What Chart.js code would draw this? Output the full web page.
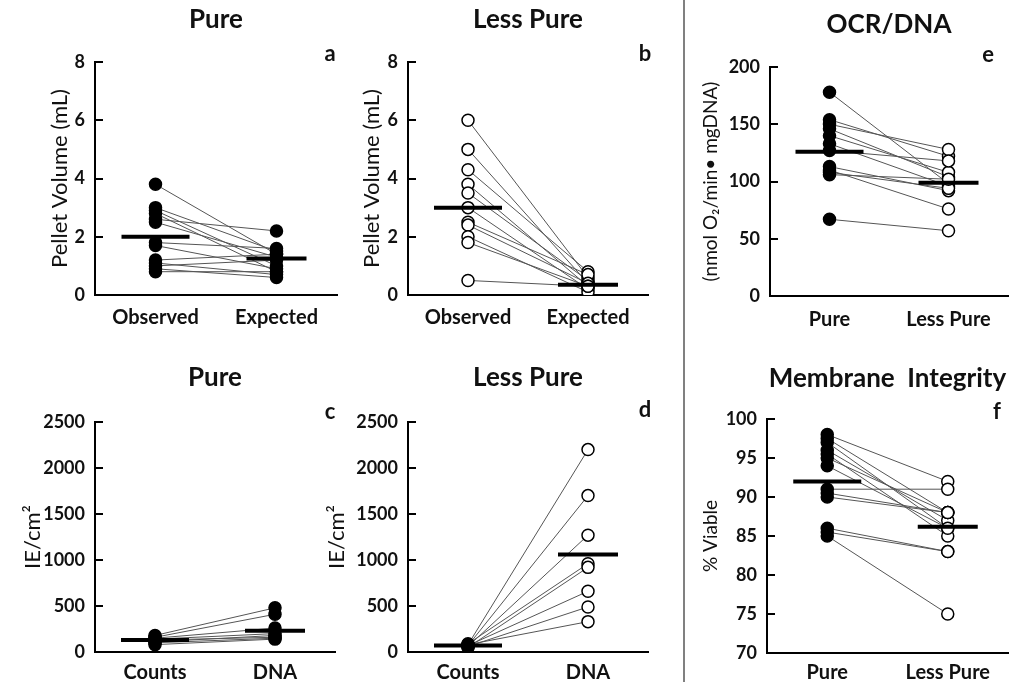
<!DOCTYPE html>
<html><head><meta charset="utf-8">
<script src="https://cdn.jsdelivr.net/npm/chart.js@4.4.1/dist/chart.umd.min.js"></script>
<style>
html,body{margin:0;padding:0;background:#fff;}
body{width:1030px;height:682px;position:relative;overflow:hidden;}
canvas{position:absolute;}
#divider{position:absolute;left:683px;top:0;width:2px;height:682px;background:#808080;}
</style></head><body>
<div id="divider"></div>
<canvas id="cA" width="345" height="340" style="left:0;top:0"></canvas>
<canvas id="cB" width="340" height="340" style="left:315px;top:0"></canvas>
<canvas id="cE" width="340" height="340" style="left:690px;top:0"></canvas>
<canvas id="cC" width="345" height="342" style="left:0;top:340px"></canvas>
<canvas id="cD" width="340" height="342" style="left:315px;top:340px"></canvas>
<canvas id="cF" width="340" height="342" style="left:690px;top:340px"></canvas>
<script>
// ---- data ----
const pelletCategories = ['Observed', 'Expected'];
const pureObserved = [3.8, 3.0, 2.9, 2.8, 2.6, 2.5, 1.8, 1.7, 1.2, 1.1, 1.0, 0.9, 0.8];
const pureExpected = [1.4, 1.5, 1.0, 0.8, 2.2, 1.3, 1.6, 0.9, 1.4, 0.7, 1.2, 0.6, 0.8];
const pureMeans = [2.0, 1.25];

const lessObserved = [6.0, 5.0, 4.3, 3.8, 3.5, 3.0, 2.5, 2.4, 2.0, 1.8, 0.5];
const lessExpected = [0.6, 0.4, 0.8, 0.3, 0.5, 0.2, 0.7, 0.4, 0.1, 0.3, 0.3];
const lessMeans = [3.0, 0.35];

const ieCategories = ['Counts', 'DNA'];
const pureCounts = [180, 160, 150, 140, 130, 110, 100, 80];
const pureDNA = [480, 410, 260, 200, 160, 180, 150, 140];
const pureIEMeans = [130, 230];

const lessCounts = [80, 70, 60, 90, 50, 70, 60, 80];
const lessDNA = [2200, 1700, 1270, 960, 920, 660, 490, 330];
const lessIEMeans = [70, 1060];

const purityCategories = ['Pure', 'Less Pure'];
const ocrPure = [178, 154, 150, 146, 140, 133, 127, 113, 110, 108, 106, 67];
const ocrLess = [98, 122, 128, 104, 108, 96, 118, 92, 76, 94, 102, 57];
const ocrMeans = [126, 99];

const viablePure = [98, 97.5, 97, 96, 95.5, 95, 94, 91, 90.5, 90, 86, 85.5, 85];
const viableLess = [92, 88, 86, 87, 85, 88, 86, 91, 88, 88, 83, 83, 75];
const viableMeans = [92, 86.2];

// ---- rendering ----
Chart.defaults.font.family = 'Lato, "Open Sans", sans-serif';
Chart.defaults.color = '#111';

const inwardTicks = {
  id: 'inwardTicks',
  afterDraw(chart) {
    const s = chart.scales.y, ctx = chart.ctx;
    ctx.save();
    ctx.strokeStyle = '#000';
    ctx.lineWidth = 2;
    s.ticks.forEach((t, i) => {
      const y = Math.round(s.getPixelForTick(i));
      ctx.beginPath();
      ctx.moveTo(chart.chartArea.left, y);
      ctx.lineTo(chart.chartArea.left + 8, y);
      ctx.stroke();
    });
    ctx.restore();
  }
};
const panelLetter = {
  id: 'panelLetter',
  afterDraw(chart, args, opts) {
    const ctx = chart.ctx;
    ctx.save();
    ctx.font = 'bold 22px Lato, sans-serif';
    ctx.fillStyle = '#111';
    ctx.textAlign = 'center';
    ctx.textBaseline = 'middle';
    ctx.fillText(opts.text, chart.chartArea.right - opts.dx, opts.y);
    ctx.restore();
  }
};

function makePanel(p) {
  const [c0, c1] = p.categories;
  const datasets = [];
  p.left.forEach((v, i) => {
    datasets.push({
      data: [p.left[i], p.right[i]],
      borderColor: '#555', borderWidth: 1,
      pointRadius: 0, order: 3
    });
  });
  datasets.push({
    data: p.left.map(v => ({x: c0, y: v})),
    showLine: false, pointRadius: 6, pointBorderWidth: 1.5,
    pointBorderColor: '#000', pointBackgroundColor: p.leftFill ? '#000' : '#fff', order: 2
  });
  datasets.push({
    data: p.right.map(v => ({x: c1, y: v})),
    showLine: false, pointRadius: 6, pointBorderWidth: 1.5,
    pointBorderColor: '#000', pointBackgroundColor: p.rightFill ? '#000' : '#fff', order: 2
  });
  datasets.push({
    data: p.means,
    showLine: false, pointStyle: 'line', pointRadius: [34, 30],
    pointBorderWidth: 4, pointBorderColor: '#000', order: 1
  });
  new Chart(document.getElementById(p.id), {
    type: 'line',
    data: {labels: p.categories, datasets},
    plugins: [inwardTicks, panelLetter],
    options: {
      responsive: false, animation: false, events: [],
      layout: {autoPadding: false, padding: {top: 0, bottom: 0, left: 0, right: p.padRight}},
      plugins: {
        legend: {display: false}, tooltip: {enabled: false},
        title: {display: true, text: p.title, fullSize: false, color: '#111',
          font: {size: 26, weight: 'bold'}, padding: {top: p.titleTop, bottom: p.titleBottom}},
        panelLetter: {text: p.letter, dx: p.letterDx, y: p.letterY}
      },
      scales: {
        x: {
          type: 'category', offset: true,
          grid: {display: false, drawTicks: false},
          border: {display: true, color: '#000', width: 2},
          ticks: {padding: p.xPad, font: {size: 20, weight: 'bold'}, color: '#111'},
          afterFit: s => { s.height = p.xHeight; s.paddingLeft = 0; s.paddingRight = 0; }
        },
        y: {
          min: p.yMin, max: p.yMax,
          grid: {display: false, drawTicks: false},
          border: {display: true, color: '#000', width: 2},
          ticks: {stepSize: p.yStep, padding: 10, font: {size: 18, weight: 'bold'}, color: '#111',
            callback: v => String(v)},
          title: {display: true, text: p.yTitle, color: '#111',
            font: {size: p.yTitleSize, weight: 'normal'}, padding: {top: p.yTitlePad, bottom: 0}},
          afterFit: s => { s.width = p.yWidth; s.paddingTop = 0; s.paddingBottom = 0; }
        }
      }
    }
  });
}

makePanel({id: 'cA', title: 'Pure', letter: 'a', yTitle: 'Pellet Volume (mL)',
  categories: pelletCategories, left: pureObserved, right: pureExpected, means: pureMeans,
  leftFill: true, rightFill: true, yMin: 0, yMax: 8, yStep: 2,
  titleTop: 4.4, titleBottom: 26.4, xHeight: 45, xPad: 11, yWidth: 95, yTitlePad: 47, yTitleSize: 22,
  padRight: 8, letterDx: 7, letterY: 54});
makePanel({id: 'cB', title: 'Less Pure', letter: 'b', yTitle: 'Pellet Volume (mL)',
  categories: pelletCategories, left: lessObserved, right: lessExpected, means: lessMeans,
  leftFill: false, rightFill: false, yMin: 0, yMax: 8, yStep: 2,
  titleTop: 4.4, titleBottom: 26.4, xHeight: 45, xPad: 11, yWidth: 93, yTitlePad: 44, yTitleSize: 22,
  padRight: 7, letterDx: 3, letterY: 54});
makePanel({id: 'cE', title: 'OCR/DNA', letter: 'e', yTitle: '(nmol O\u2082/min\u2022 mgDNA)',
  categories: purityCategories, left: ocrPure, right: ocrLess, means: ocrMeans,
  leftFill: true, rightFill: false, yMin: 0, yMax: 200, yStep: 50,
  titleTop: 9.4, titleBottom: 26.4, xHeight: 44, xPad: 12, yWidth: 80, yTitlePad: 9, yTitleSize: 19,
  padRight: 22, letterDx: 20, letterY: 55});
makePanel({id: 'cC', title: 'Pure', letter: 'c', yTitle: 'IE/cm\u00B2',
  categories: ieCategories, left: pureCounts, right: pureDNA, means: pureIEMeans,
  leftFill: true, rightFill: true, yMin: 0, yMax: 2500, yStep: 500,
  titleTop: 22.4, titleBottom: 28.4, xHeight: 30, xPad: 9, yWidth: 95, yTitlePad: 20, yTitleSize: 22,
  padRight: 10, letterDx: 5, letterY: 72});
makePanel({id: 'cD', title: 'Less Pure', letter: 'd', yTitle: 'IE/cm\u00B2',
  categories: ieCategories, left: lessCounts, right: lessDNA, means: lessIEMeans,
  leftFill: true, rightFill: false, yMin: 0, yMax: 2500, yStep: 500,
  titleTop: 22.4, titleBottom: 28.4, xHeight: 30, xPad: 9, yWidth: 93, yTitlePad: 9, yTitleSize: 22,
  padRight: 7, letterDx: 3, letterY: 70});
makePanel({id: 'cF', title: 'Membrane  Integrity', letter: 'f', yTitle: '% Viable',
  categories: purityCategories, left: viablePure, right: viableLess, means: viableMeans,
  leftFill: true, rightFill: false, yMin: 70, yMax: 100, yStep: 5,
  titleTop: 23.4, titleBottom: 24.4, xHeight: 29, xPad: 8, yWidth: 77, yTitlePad: 9, yTitleSize: 19,
  padRight: 22, letterDx: 11, letterY: 72});
</script>
</body></html>
